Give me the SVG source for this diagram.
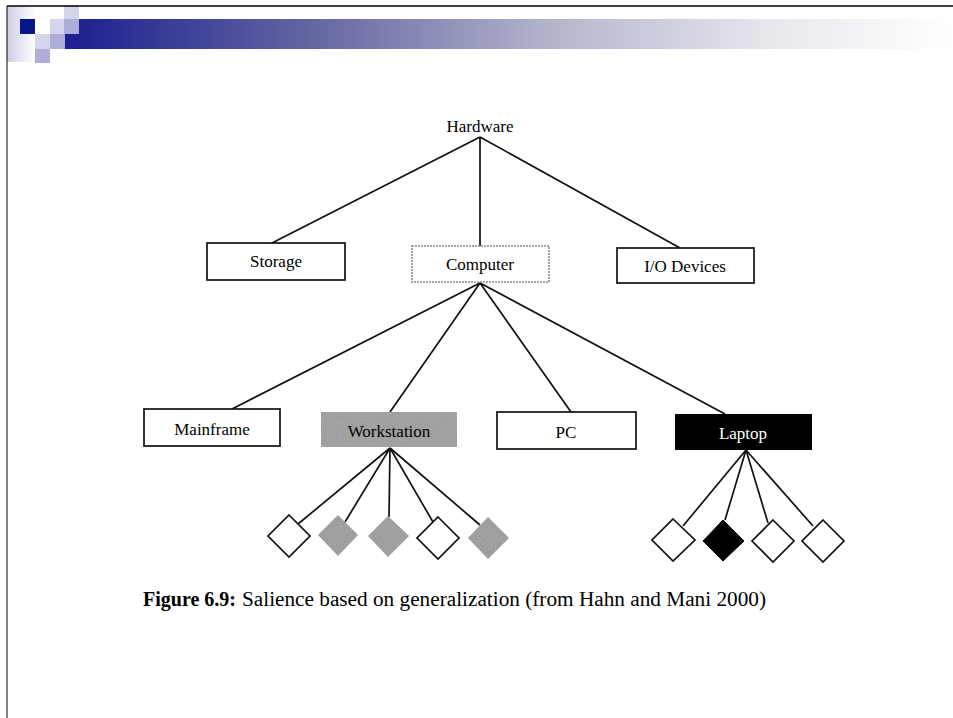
<svg xmlns="http://www.w3.org/2000/svg" width="953" height="718" viewBox="0 0 953 718">
<defs>
<linearGradient id="bar" x1="0" y1="0" x2="1" y2="0">
<stop offset="0" stop-color="#1b1d8f"/>
<stop offset="0.3" stop-color="#6a6ca4"/>
<stop offset="0.55" stop-color="#b4b5cc"/>
<stop offset="0.8" stop-color="#e8e8ee"/>
<stop offset="1" stop-color="#ffffff"/>
</linearGradient>
<linearGradient id="strip" x1="0" y1="0" x2="1" y2="0">
<stop offset="0" stop-color="#cdcee6"/>
<stop offset="1" stop-color="#ffffff"/>
</linearGradient>
<filter id="grain" x="0" y="0" width="1" height="1">
<feTurbulence type="fractalNoise" baseFrequency="0.9" numOctaves="2" seed="3" result="n"/>
<feColorMatrix in="n" type="matrix" values="0 0 0 0 0.5  0 0 0 0 0.5  0 0 0 0 0.5  0.6 0.6 0 0 -0.45" result="g"/>
<feComposite in="g" in2="SourceGraphic" operator="in" result="gc"/>
<feMerge><feMergeNode in="SourceGraphic"/><feMergeNode in="gc"/></feMerge>
</filter>
</defs>
<style>
.box{fill:#fff;stroke:#111;stroke-width:1.7}
.lbl{font-family:"Liberation Serif","Times New Roman",serif;font-size:17px;fill:#000;text-anchor:middle}
.edge{stroke:#111;stroke-width:1.7;fill:none}
.dw{fill:#fff;stroke:#111;stroke-width:1.7}
.dg{fill:#9a9a9a;stroke:none}
.db{fill:#000;stroke:#000;stroke-width:1}
</style>
<rect width="953" height="718" fill="#fff"/>
<g id="header">
<rect x="7" y="6" width="28" height="56" fill="url(#strip)"/>
<rect x="64" y="19" width="889" height="30" fill="url(#bar)"/>
<rect x="20" y="19" width="15" height="15" fill="#06178c"/>
<rect x="35" y="34" width="15" height="15" fill="#d4d5ea"/>
<rect x="35" y="49" width="15" height="14" fill="#acaed9"/>
<rect x="50" y="19" width="15" height="15" fill="#d4d5ea"/>
<rect x="50" y="34" width="15" height="15" fill="#acaed9"/>
<rect x="64" y="5" width="15" height="14" fill="#d4d5ea"/>
<rect x="64" y="19" width="15" height="15" fill="#acaed9"/>
<line x1="7" y1="6" x2="953" y2="6" stroke="#000" stroke-width="1.5"/>
<line x1="7" y1="6" x2="7" y2="718" stroke="#000" stroke-width="1"/>
</g>
<g id="connectors">
<path class="edge" d="M480 137 L272 243 M480 137 L480 246 M480 137 L680 248"/>
<path class="edge" d="M480 283 L232 409 M480 283 L390 412 M480 283 L571 412 M480 283 L725 414"/>
<path class="edge" d="M390 448 L298 524 M390 448 L345 522 M390 448 L389 517 M390 448 L433 522 M390 448 L480 525"/>
<path class="edge" d="M746 450 L683 526 M746 450 L725 520 M746 450 L768 523 M746 450 L813 526"/>
</g>
<g id="hardware"><text class="lbl" x="480" y="132">Hardware</text></g>
<g id="storage"><rect class="box" x="207" y="243" width="138" height="37"/><text class="lbl" x="276" y="267">Storage</text></g>
<g id="computer"><rect x="412" y="246" width="137" height="36" fill="#fff" stroke="#8a8a8a" stroke-width="1.6" stroke-dasharray="2 1"/><text class="lbl" x="480" y="270">Computer</text></g>
<g id="io-devices"><rect class="box" x="617" y="248" width="137" height="35"/><text class="lbl" x="685" y="272">I/O Devices</text></g>
<g id="mainframe"><rect class="box" x="144" y="409" width="136" height="37"/><text class="lbl" x="212" y="435">Mainframe</text></g>
<g id="workstation"><rect x="321" y="412" width="136" height="35" fill="#9c9c9c" filter="url(#grain)"/><text class="lbl" x="389" y="437">Workstation</text></g>
<g id="pc"><rect class="box" x="497" y="412" width="139" height="37"/><text class="lbl" x="566" y="438">PC</text></g>
<g id="laptop"><rect x="675" y="414" width="137" height="36" fill="#000"/><text class="lbl" x="743" y="439" style="fill:#fff">Laptop</text></g>
<g id="ws-d1"><polygon class="dw" points="289,515 310,536 289,557 268,536"/></g>
<g id="ws-d2"><polygon class="dg" filter="url(#grain)" points="338,515 358,535 338,556 318,535"/></g>
<g id="ws-d3"><polygon class="dg" filter="url(#grain)" points="388,516 409,536 388,557 368,536"/></g>
<g id="ws-d4"><polygon class="dw" points="438,517 459,538 438,559 417,538"/></g>
<g id="ws-d5"><polygon class="dg" filter="url(#grain)" points="488,517 509,538 488,559 468,538"/></g>
<g id="lt-d1"><polygon class="dw" points="673,519 695,540 673,561 652,540"/></g>
<g id="lt-d2"><polygon class="db" points="723,520 744,541 723,561 703,541"/></g>
<g id="lt-d3"><polygon class="dw" points="773,520 794,541 773,562 752,541"/></g>
<g id="lt-d4"><polygon class="dw" points="823,520 844,541 823,562 802,541"/></g>
<g id="caption">
<text x="143" y="606" font-family="'Liberation Serif','Times New Roman',serif" font-size="20" font-weight="bold" fill="#000" textLength="93" lengthAdjust="spacingAndGlyphs">Figure 6.9:</text>
<text x="242" y="606" font-family="'Liberation Serif','Times New Roman',serif" font-size="20" fill="#000" textLength="524" lengthAdjust="spacingAndGlyphs">Salience based on generalization (from Hahn and Mani 2000)</text>
</g>
</svg>
